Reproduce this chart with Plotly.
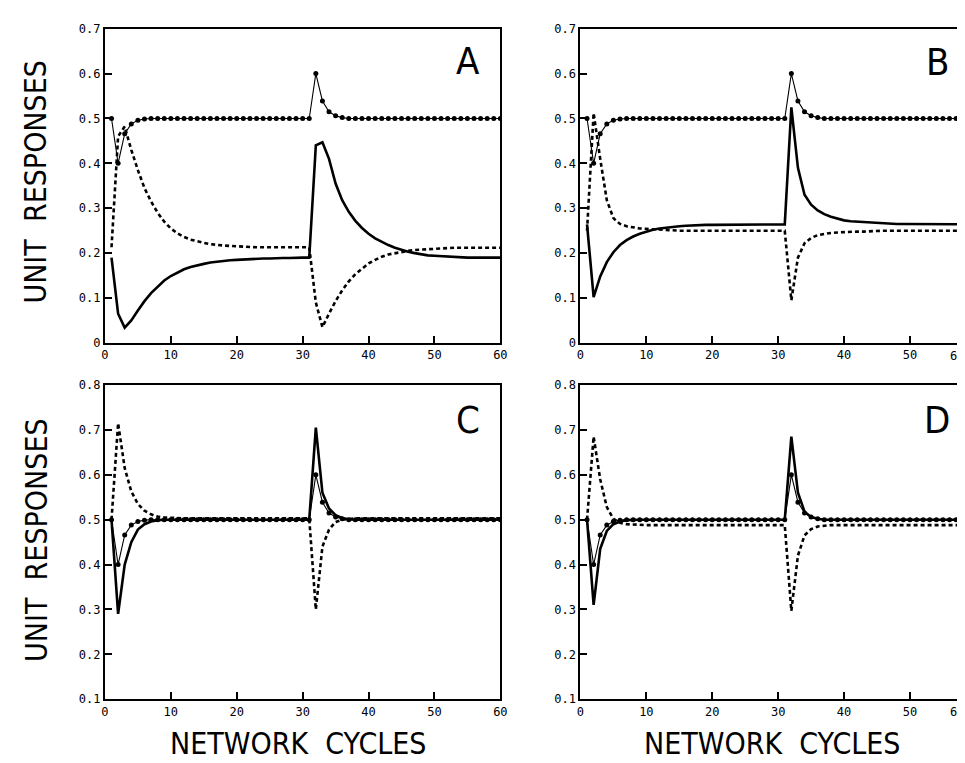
import plotly.graph_objects as go

cycles = list(range(1, 61))

stim = [0.5, 0.40, 0.466, 0.488, 0.496, 0.499] + [0.5] * 25 + \
       [0.60, 0.539, 0.515, 0.506, 0.502] + [0.5] * 24

a_solid = [0.19, 0.065, 0.034, 0.05, 0.072, 0.093, 0.111, 0.126, 0.139, 0.149,
           0.157, 0.164, 0.169, 0.173, 0.176, 0.179, 0.181, 0.183, 0.184, 0.185,
           0.186, 0.187, 0.187, 0.188, 0.188, 0.189, 0.189, 0.189, 0.19, 0.19,
           0.19, 0.44, 0.447, 0.41, 0.355, 0.318, 0.292, 0.272, 0.256, 0.243,
           0.233, 0.225, 0.218, 0.212, 0.207, 0.203, 0.2, 0.197, 0.195, 0.194,
           0.193, 0.192, 0.191, 0.191, 0.19, 0.19, 0.19, 0.19, 0.19, 0.19]
a_dash = [0.213, 0.46, 0.482, 0.43, 0.385, 0.345, 0.315, 0.29, 0.27, 0.255,
          0.244, 0.236, 0.23, 0.226, 0.223, 0.22, 0.218, 0.217, 0.216, 0.215,
          0.215, 0.214, 0.213, 0.213, 0.213, 0.213, 0.213, 0.213, 0.213, 0.213,
          0.213, 0.09, 0.035, 0.065, 0.093, 0.117, 0.137, 0.153, 0.166, 0.177,
          0.185, 0.192, 0.197, 0.2, 0.203, 0.205, 0.207, 0.208, 0.209, 0.21,
          0.211, 0.212, 0.212, 0.212, 0.212, 0.212, 0.212, 0.212, 0.212, 0.212]

b_solid = [0.264, 0.102, 0.148, 0.18, 0.202, 0.218, 0.229, 0.237, 0.243, 0.248,
           0.252, 0.255, 0.257, 0.259, 0.26, 0.261, 0.262, 0.262, 0.263, 0.263,
           0.263, 0.263, 0.263, 0.263, 0.264, 0.264, 0.264, 0.264, 0.264, 0.264,
           0.264, 0.525, 0.39, 0.33, 0.308, 0.295, 0.287, 0.281, 0.277, 0.273,
           0.271, 0.27, 0.269, 0.268, 0.267, 0.266, 0.265, 0.265, 0.265, 0.265,
           0.264, 0.264, 0.264, 0.264, 0.264, 0.264, 0.264, 0.264, 0.264, 0.264]
b_dash = [0.25, 0.512, 0.41, 0.318, 0.278, 0.265, 0.26, 0.257, 0.255, 0.254,
          0.253, 0.252, 0.252, 0.251, 0.25, 0.25, 0.25, 0.25, 0.25, 0.25,
          0.25, 0.25, 0.25, 0.25, 0.25, 0.25, 0.25, 0.25, 0.25, 0.25,
          0.25, 0.095, 0.19, 0.222, 0.234, 0.24, 0.243, 0.245, 0.246, 0.247,
          0.248, 0.248, 0.248, 0.249, 0.249, 0.25, 0.25, 0.25, 0.25, 0.25,
          0.25, 0.25, 0.25, 0.25, 0.25, 0.25, 0.25, 0.25, 0.25, 0.25]

c_solid = [0.5, 0.29, 0.40, 0.45, 0.478, 0.49, 0.496, 0.499] + [0.5] * 23 + \
          [0.705, 0.56, 0.525, 0.51, 0.504, 0.501] + [0.5] * 23
c_dash = [0.5, 0.715, 0.615, 0.563, 0.535, 0.52, 0.512, 0.507, 0.505, 0.504] + [0.503] * 21 + \
         [0.3, 0.44, 0.478, 0.495, 0.5, 0.502] + [0.503] * 23

d_solid = [0.5, 0.31, 0.435, 0.475, 0.49, 0.496, 0.499] + [0.5] * 24 + \
          [0.685, 0.56, 0.518, 0.506, 0.502] + [0.5] * 24
d_dash = [0.5, 0.685, 0.59, 0.528, 0.502, 0.493, 0.49, 0.489] + [0.488] * 23 + \
         [0.297, 0.42, 0.465, 0.479, 0.485, 0.487] + [0.488] * 23

x_ticks = [0, 10, 20, 30, 40, 50, 60]
y_ticks_top = [0, 0.1, 0.2, 0.3, 0.4, 0.5, 0.6, 0.7]
y_text_top = ["0", "0.1", "0.2", "0.3", "0.4", "0.5", "0.6", "0.7"]
y_ticks_bot = [0.1, 0.2, 0.3, 0.4, 0.5, 0.6, 0.7, 0.8]
y_text_bot = ["0.1", "0.2", "0.3", "0.4", "0.5", "0.6", "0.7", "0.8"]

panels = [
    ("A", a_solid, a_dash, "x", "y"),
    ("B", b_solid, b_dash, "x2", "y2"),
    ("C", c_solid, c_dash, "x3", "y3"),
    ("D", d_solid, d_dash, "x4", "y4"),
]

W, H = 965, 763
fig = go.Figure()
for name, solid, dash, xa, ya in panels:
    fig.add_trace(go.Scatter(x=cycles, y=dash, mode="lines", xaxis=xa, yaxis=ya,
                             line=dict(color="black", width=2.6, dash="4px,3px"),
                             showlegend=False))
    fig.add_trace(go.Scatter(x=cycles, y=solid, mode="lines", xaxis=xa, yaxis=ya,
                             line=dict(color="black", width=2.6),
                             showlegend=False))
    fig.add_trace(go.Scatter(x=cycles, y=stim, mode="lines+markers", xaxis=xa, yaxis=ya,
                             line=dict(color="black", width=1.1),
                             marker=dict(color="black", size=5),
                             showlegend=False))

tick_font = dict(family="DejaVu Sans Mono", size=12, color="black")

def px_x(p):
    return p / W

def px_y(p):
    return 1 - p / H

left_dom = [px_x(94), px_x(494)]
right_dom = [px_x(575), 1.0]
top_dom = [px_y(334), px_y(14)]
bot_dom = [px_y(697), px_y(377)]
right_range = [0, (W - 575) / 400 * 60]

common_x = dict(tickmode="array", tickvals=x_ticks, ticktext=[str(t) for t in x_ticks],
                ticks="inside", ticklen=7, tickwidth=1.5, tickcolor="black",
                showline=True, linecolor="black", linewidth=2, mirror=True,
                showgrid=False, zeroline=False, tickfont=tick_font)
common_y = dict(tickmode="array", ticks="inside", ticklen=7, tickwidth=1.5, tickcolor="black",
                showline=True, linecolor="black", linewidth=2,
                showgrid=False, zeroline=False, tickfont=tick_font)

fig.update_layout(
    width=W, height=H, margin=dict(l=0, r=0, t=0, b=0),
    paper_bgcolor="white", plot_bgcolor="white",
    xaxis=dict(common_x, domain=left_dom, range=[0, 60], anchor="y"),
    yaxis=dict(common_y, domain=top_dom, range=[0, 0.7], tickvals=y_ticks_top, ticktext=y_text_top,
               mirror=True, anchor="x"),
    xaxis2=dict(common_x, domain=right_dom, range=right_range, anchor="y2"),
    yaxis2=dict(common_y, domain=top_dom, range=[0, 0.7], tickvals=y_ticks_top, ticktext=y_text_top,
                mirror=False, anchor="x2"),
    xaxis3=dict(common_x, domain=left_dom, range=[0, 60], anchor="y3"),
    yaxis3=dict(common_y, domain=bot_dom, range=[0.1, 0.8], tickvals=y_ticks_bot, ticktext=y_text_bot,
                mirror=True, anchor="x3"),
    xaxis4=dict(common_x, domain=right_dom, range=right_range, anchor="y4"),
    yaxis4=dict(common_y, domain=bot_dom, range=[0.1, 0.8], tickvals=y_ticks_bot, ticktext=y_text_bot,
                mirror=False, anchor="x4"),
)

title_font = dict(family="Liberation Sans Narrow, DejaVu Sans Condensed, Arial Narrow, sans-serif",
                  size=30, color="black")
letter_font = dict(family="Liberation Sans Narrow, DejaVu Sans Condensed, sans-serif",
                   size=38, color="black")

annos = []
for name, cx, cy in [("A", 461, 47), ("B", 936, 48), ("C", 461, 413), ("D", 936, 413)]:
    annos.append(dict(text=name, x=px_x(cx), y=px_y(cy), xref="paper", yref="paper",
                      showarrow=False, font=letter_font, xanchor="center", yanchor="middle"))
for cy in [170, 535]:
    annos.append(dict(text="UNIT  RESPONSES", x=px_x(24), y=px_y(cy), xref="paper", yref="paper",
                      showarrow=False, font=title_font, textangle=-90,
                      xanchor="center", yanchor="middle"))
for cx in [289, 769]:
    annos.append(dict(text="NETWORK  CYCLES", x=px_x(cx), y=px_y(742), xref="paper", yref="paper",
                      showarrow=False, font=title_font, xanchor="center", yanchor="middle"))
# the "60" tick label of the right-hand panels, placed at the page edge
for ybot in [334, 697]:
    annos.append(dict(text="60", x=1.0, y=px_y(ybot), xref="paper", yref="paper",
                      showarrow=False, font=tick_font, xanchor="right", yanchor="top", yshift=-4))
fig.update_layout(annotations=annos)

fig.write_html("out.html")
